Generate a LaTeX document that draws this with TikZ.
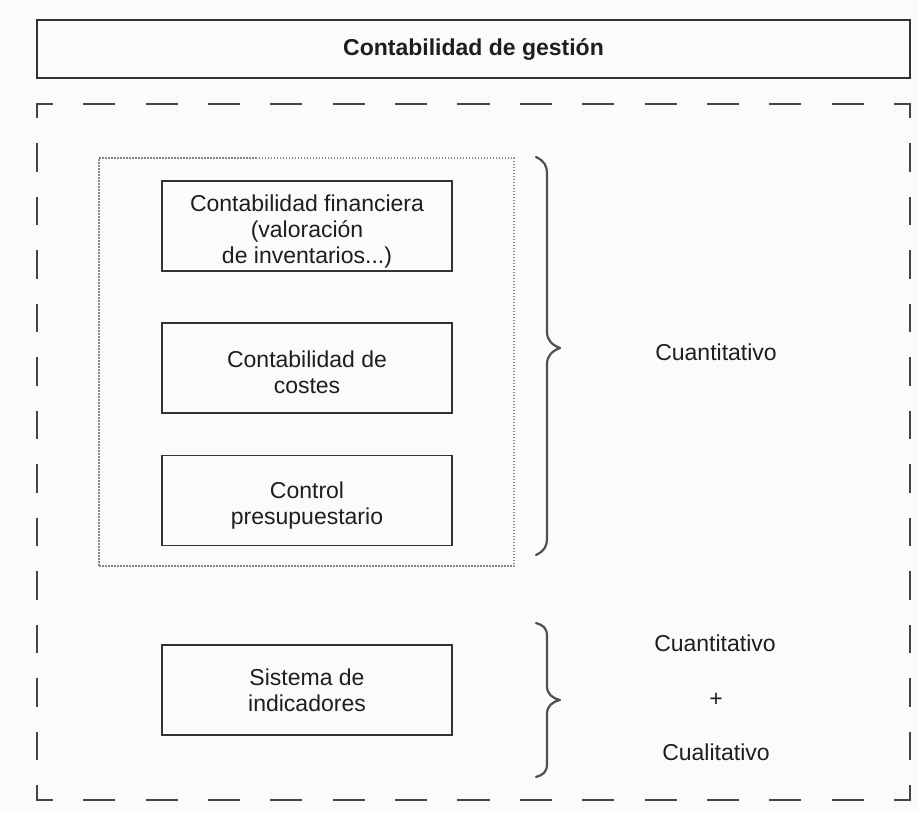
\documentclass[tikz,border=0pt]{standalone}
\usepackage{fontspec}
\setmainfont{Liberation Sans}
\definecolor{pagebg}{HTML}{FBFBFB}
\definecolor{inkline}{HTML}{333333}
\definecolor{inktext}{HTML}{1E1E1E}
\definecolor{framegray}{HTML}{444444}
\definecolor{dotgray}{HTML}{858585}
\definecolor{bracegray}{HTML}{505050}
\begin{document}
\begin{tikzpicture}[x=1pt,y=-1pt,
  txt/.style={font=\fontsize{23}{26}\selectfont, text=inktext, align=center, inner sep=0pt},
  itembox/.style={txt, draw=inkline, line width=1.9pt, minimum width=290pt, minimum height=90pt},
  titlebox/.style={draw=inkline, line width=1.9pt, minimum width=873pt, minimum height=58pt,
    inner sep=0pt, font=\fontsize{23}{26}\selectfont\bfseries, text=inktext},
  groupbox/.style={draw=dotgray, line width=1.5pt, dash pattern=on 1.5pt off 1.5pt,
    minimum width=415pt, minimum height=408pt, inner sep=0pt},
  frameh/.style={draw=framegray, line width=2.7pt, line cap=rect,
    dash pattern=on 29.4pt off 32.96pt, dash phase=14.7pt},
  framev/.style={draw=framegray, line width=2.7pt, line cap=rect,
    dash pattern=on 25.4pt off 28.1pt, dash phase=12.7pt},
  curly/.style={draw=bracegray, line width=2.2pt, line cap=round, line join=round},
]
% page
\useasboundingbox[fill=pagebg] (0,0) rectangle (918,812);

% heading
\node[titlebox] (title) at (473.5,49) {Contabilidad de gestión};

% dashed frame
\coordinate (fTL) at (37,104);
\coordinate (fTR) at (910,104);
\coordinate (fBL) at (37,800);
\coordinate (fBR) at (910,800);
\draw[frameh] (fTL) -- (fTR);
\draw[frameh] (fBL) -- (fBR);
\draw[framev] (fTL) -- (fBL);
\draw[framev] (fTR) -- (fBR);

% dotted group of the quantitative tools
\node[groupbox] (group) at (306.5,362) {};

% boxes (the struts set the text a little below the box centre)
\node[itembox] (fin) at (307,226) {\rule{0pt}{28pt}Contabilidad financiera\\(valoración\\de inventarios...)};
\node[itembox] (costes) at (307,368) {\rule{0pt}{25pt}Contabilidad de\\costes};
\node[itembox] (presu) at (307,500.5) {\rule{0pt}{27pt}Control\\presupuestario};
\node[itembox] (indic) at (307,690) {Sistema de\\indicadores};

% upper brace
\draw[curly] (536,157) .. controls (544,161) and (547,165) .. (547,174)
  -- (547,332) .. controls (547,340) and (552,345) .. (560,348)
  .. controls (552,351) and (547,356) .. (547,364)
  -- (547,538) .. controls (547,547) and (544,551) .. (536,555);
\node[txt] (cuant1) at (716,352) {Cuantitativo};

% lower brace
\draw[curly] (536,623) .. controls (543,625) and (547,628) .. (547,636)
  -- (547,686) .. controls (547,694) and (552,698) .. (560,700)
  .. controls (552,702) and (547,706) .. (547,714)
  -- (547,764) .. controls (547,772) and (543,775) .. (536,777);
\node[txt] (cuant2) at (715,643) {Cuantitativo};
\node[txt] (plus) at (716,700) {+};
\node[txt] (cual) at (716,752) {Cualitativo};
\end{tikzpicture}
\end{document}
